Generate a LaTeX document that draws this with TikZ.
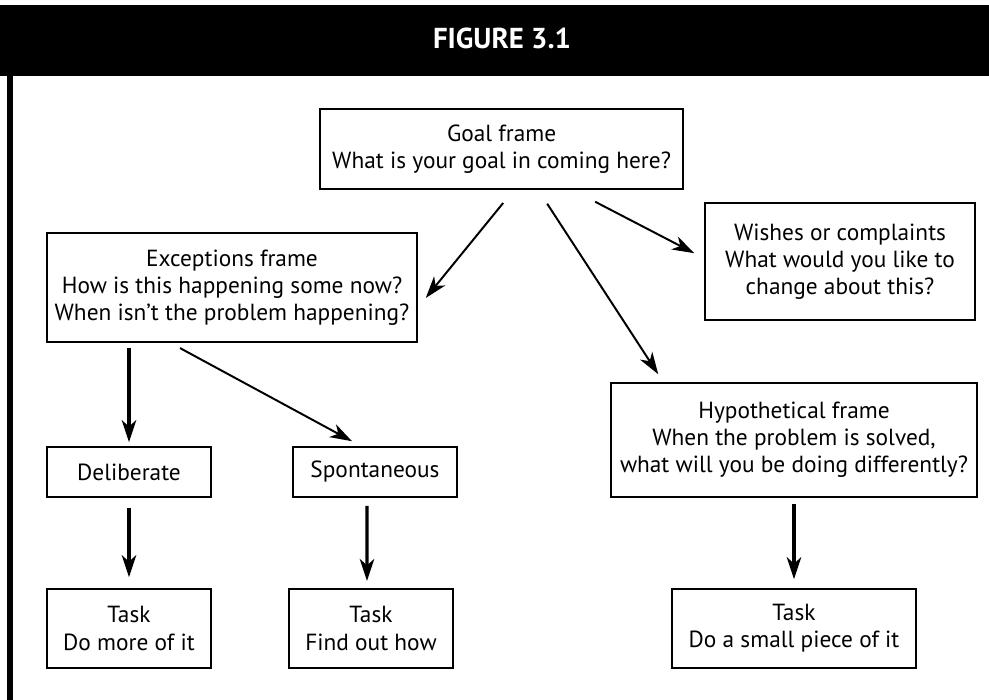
\documentclass[tikz,border=0pt]{standalone}
\usepackage{fontspec}
\setmainfont{PT Sans}
\usepackage{tikz}
\usetikzlibrary{positioning, arrows.meta}

\begin{document}
\begin{tikzpicture}[
      frame/.style={rectangle, draw=black, line width=1.1pt, align=center,
                    inner sep=0pt, font=\fontsize{16.6}{19.3}\selectfont},
      arr/.style={line width=1.4pt, -{Stealth[length=5.5mm, width=3.6mm, inset=1.6mm]}},
      varr/.style={arr, line width=2.2pt}
    ]
    \useasboundingbox (0, 0) rectangle (24.725, 17.5);

    % Header bar
    \fill[black] (0, 15.6) rectangle (24.725, 17.375);
    \node[font=\bfseries\fontsize{20.5}{23}\selectfont, text=white]
          (title) at (12.55, 16.55) {FIGURE 3.1};
    \draw[line width=0.15cm] (0.25, 15.6) -- (0.25, 0);

    % Top level
    \node[frame, minimum width=9.075cm, minimum height=2.0cm]
          (goal) at (12.54, 13.775)
          {Goal frame\\ What is your goal in coming here?};

    % Second level
    \node[frame, minimum width=9.25cm, minimum height=2.725cm]
          (exc) at (5.8, 10.31)
          {Exceptions frame\\ How is this happening some now?\\
           When isn’t the problem happening?};
    \node[frame, minimum width=6.75cm, minimum height=2.925cm]
          (wish) at (21.0, 10.96)
          {Wishes or complaints\\ What would you like to\\ change about this?};
    \node[frame, minimum width=9.15cm, minimum height=2.85cm]
          (hypo) at (19.85, 6.5)
          {Hypothetical frame\\ When the problem is solved,\\
           what will you be doing differently?};

    % Third level
    \node[frame, minimum width=4.1cm, minimum height=1.25cm]
          (delib) at (3.225, 5.7) {Deliberate};
    \node[frame, minimum width=4.1cm, minimum height=1.25cm]
          (spont) at (9.375, 5.7) {Spontaneous};

    % Tasks
    \node[frame, minimum width=4.1cm, minimum height=1.975cm]
          (task1) at (3.225, 1.7875) {Task\\ Do more of it};
    \node[frame, minimum width=4.1cm, minimum height=1.975cm]
          (task2) at (9.275, 1.7875) {Task\\ Find out how};
    \node[frame, minimum width=6.1cm, minimum height=1.975cm]
          (task3) at (19.85, 1.7875) {Task\\ Do a small piece of it};

    % Connectors
    \draw[arr] ([xshift=0.04cm, yshift=-0.33cm]goal.south)
            -- ([xshift=0.2cm, yshift=-0.26cm]exc.east);
    \draw[arr] ([xshift=1.14cm, yshift=-0.35cm]goal.south)
            -- ([xshift=1.2cm, yshift=0.2cm]hypo.north west);
    \draw[arr] ([xshift=2.34cm, yshift=-0.3cm]goal.south)
            -- ([xshift=-0.25cm, yshift=0.21cm]wish.west);
    \draw[varr] ([yshift=-0.13cm]exc.south -| delib.north)
            -- ([yshift=0.1cm]delib.north);
    \draw[arr] ([xshift=-1.3cm, yshift=-0.13cm]exc.south)
            -- ([xshift=-0.575cm, yshift=0.125cm]spont.north);
    \draw[varr] ([yshift=-0.25cm]delib.south) -- ([yshift=0.275cm]task1.north);
    \draw[varr] ([xshift=-0.2cm, yshift=-0.2cm]spont.south)
            -- ([xshift=-0.1cm, yshift=0.18cm]task2.north);
    \draw[varr] ([yshift=-0.15cm]hypo.south) -- ([yshift=0.225cm]task3.north);
  \end{tikzpicture}
\end{document}
